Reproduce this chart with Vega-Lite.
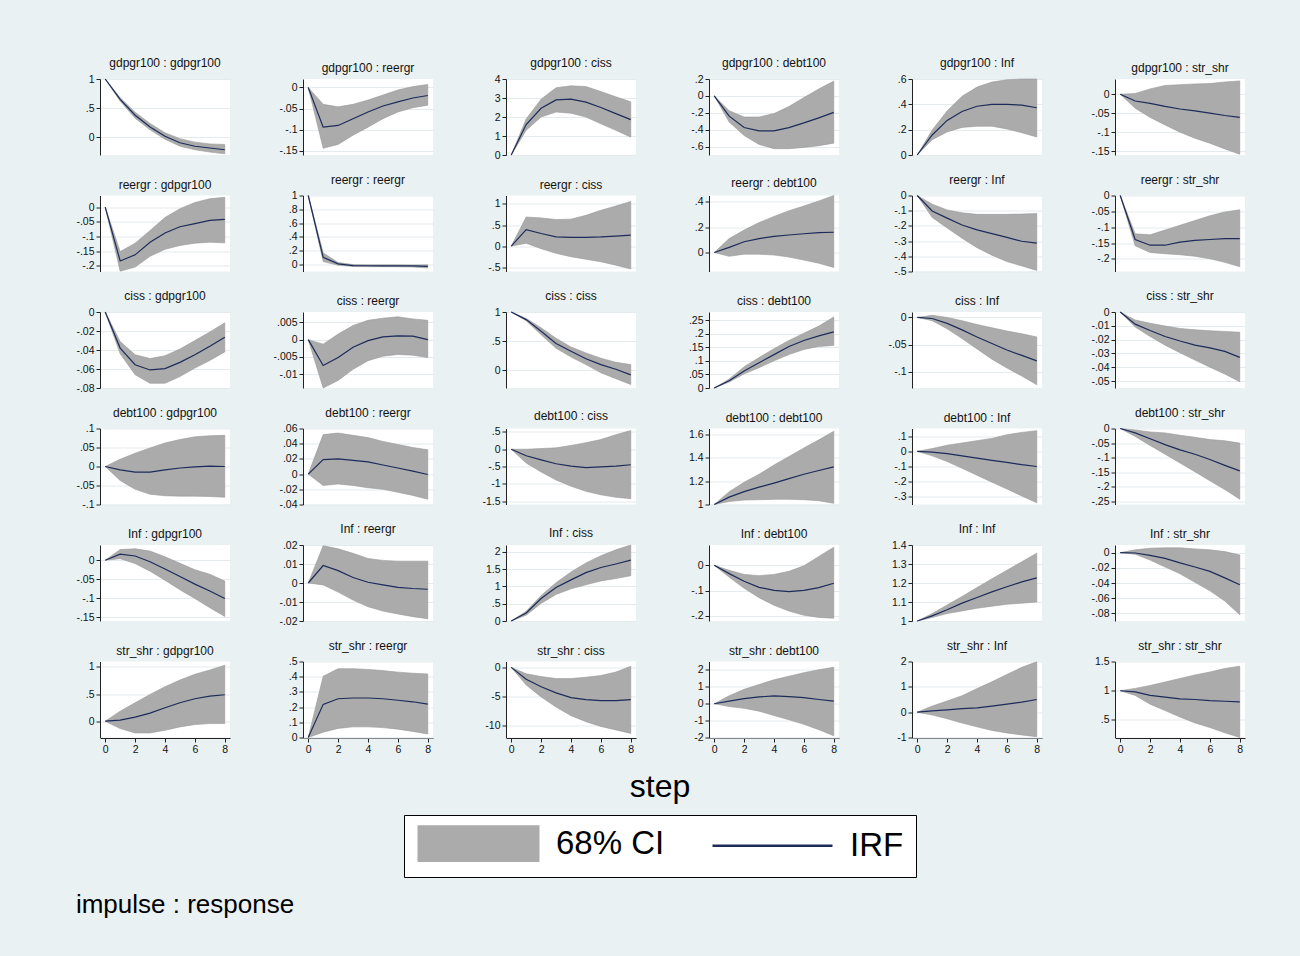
{
 "$schema": "https://vega.github.io/schema/vega-lite/v6.json",
 "background": "#e9f1f3",
 "padding": {"left": 75, "top": 57, "right": 55, "bottom": 50},
 "bounds": "flush",
 "title": {"text": "impulse : response", "orient": "bottom", "anchor": "start", "fontSize": 26, "fontWeight": "normal", "color": "#000", "offset": 14},
 "data": {"values": [
{"panel":"gdpgr100 : gdpgr100","step":0,"irf":1,"lo":1,"hi":1},
{"panel":"gdpgr100 : gdpgr100","step":1,"irf":0.65,"lo":0.62,"hi":0.68},
{"panel":"gdpgr100 : gdpgr100","step":2,"irf":0.38,"lo":0.33,"hi":0.43},
{"panel":"gdpgr100 : gdpgr100","step":3,"irf":0.18,"lo":0.13,"hi":0.24},
{"panel":"gdpgr100 : gdpgr100","step":4,"irf":0.02,"lo":-0.03,"hi":0.08},
{"panel":"gdpgr100 : gdpgr100","step":5,"irf":-0.09,"lo":-0.15,"hi":-0.02},
{"panel":"gdpgr100 : gdpgr100","step":6,"irf":-0.15,"lo":-0.21,"hi":-0.08},
{"panel":"gdpgr100 : gdpgr100","step":7,"irf":-0.18,"lo":-0.25,"hi":-0.11},
{"panel":"gdpgr100 : gdpgr100","step":8,"irf":-0.21,"lo":-0.28,"hi":-0.12},
{"panel":"gdpgr100 : reergr","step":0,"irf":0,"lo":0,"hi":0},
{"panel":"gdpgr100 : reergr","step":1,"irf":-0.094,"lo":-0.144,"hi":-0.04},
{"panel":"gdpgr100 : reergr","step":2,"irf":-0.09,"lo":-0.135,"hi":-0.046},
{"panel":"gdpgr100 : reergr","step":3,"irf":-0.074,"lo":-0.113,"hi":-0.04},
{"panel":"gdpgr100 : reergr","step":4,"irf":-0.058,"lo":-0.094,"hi":-0.03},
{"panel":"gdpgr100 : reergr","step":5,"irf":-0.044,"lo":-0.074,"hi":-0.018},
{"panel":"gdpgr100 : reergr","step":6,"irf":-0.034,"lo":-0.058,"hi":-0.006},
{"panel":"gdpgr100 : reergr","step":7,"irf":-0.025,"lo":-0.048,"hi":0.002},
{"panel":"gdpgr100 : reergr","step":8,"irf":-0.019,"lo":-0.042,"hi":0.007},
{"panel":"gdpgr100 : ciss","step":0,"irf":0,"lo":0,"hi":0},
{"panel":"gdpgr100 : ciss","step":1,"irf":1.6,"lo":1.3,"hi":1.9},
{"panel":"gdpgr100 : ciss","step":2,"irf":2.46,"lo":2.0,"hi":2.94},
{"panel":"gdpgr100 : ciss","step":3,"irf":2.9,"lo":2.26,"hi":3.54},
{"panel":"gdpgr100 : ciss","step":4,"irf":2.94,"lo":2.2,"hi":3.64},
{"panel":"gdpgr100 : ciss","step":5,"irf":2.78,"lo":2.0,"hi":3.6},
{"panel":"gdpgr100 : ciss","step":6,"irf":2.5,"lo":1.64,"hi":3.34},
{"panel":"gdpgr100 : ciss","step":7,"irf":2.18,"lo":1.3,"hi":3.06},
{"panel":"gdpgr100 : ciss","step":8,"irf":1.86,"lo":0.94,"hi":2.8},
{"panel":"gdpgr100 : debt100","step":0,"irf":0,"lo":0,"hi":0},
{"panel":"gdpgr100 : debt100","step":1,"irf":-0.24,"lo":-0.31,"hi":-0.175},
{"panel":"gdpgr100 : debt100","step":2,"irf":-0.375,"lo":-0.47,"hi":-0.25},
{"panel":"gdpgr100 : debt100","step":3,"irf":-0.415,"lo":-0.575,"hi":-0.25},
{"panel":"gdpgr100 : debt100","step":4,"irf":-0.415,"lo":-0.625,"hi":-0.21},
{"panel":"gdpgr100 : debt100","step":5,"irf":-0.375,"lo":-0.625,"hi":-0.125},
{"panel":"gdpgr100 : debt100","step":6,"irf":-0.32,"lo":-0.61,"hi":-0.02},
{"panel":"gdpgr100 : debt100","step":7,"irf":-0.26,"lo":-0.59,"hi":0.083},
{"panel":"gdpgr100 : debt100","step":8,"irf":-0.195,"lo":-0.56,"hi":0.175},
{"panel":"gdpgr100 : Inf","step":0,"irf":0,"lo":0,"hi":0},
{"panel":"gdpgr100 : Inf","step":1,"irf":0.158,"lo":0.121,"hi":0.197},
{"panel":"gdpgr100 : Inf","step":2,"irf":0.273,"lo":0.182,"hi":0.348},
{"panel":"gdpgr100 : Inf","step":3,"irf":0.343,"lo":0.218,"hi":0.464},
{"panel":"gdpgr100 : Inf","step":4,"irf":0.385,"lo":0.227,"hi":0.536},
{"panel":"gdpgr100 : Inf","step":5,"irf":0.4,"lo":0.227,"hi":0.576},
{"panel":"gdpgr100 : Inf","step":6,"irf":0.4,"lo":0.206,"hi":0.594},
{"panel":"gdpgr100 : Inf","step":7,"irf":0.394,"lo":0.176,"hi":0.6},
{"panel":"gdpgr100 : Inf","step":8,"irf":0.373,"lo":0.142,"hi":0.6},
{"panel":"gdpgr100 : str_shr","step":0,"irf":0,"lo":0,"hi":0},
{"panel":"gdpgr100 : str_shr","step":1,"irf":-0.018,"lo":-0.037,"hi":0.002},
{"panel":"gdpgr100 : str_shr","step":2,"irf":-0.024,"lo":-0.061,"hi":0.014},
{"panel":"gdpgr100 : str_shr","step":3,"irf":-0.032,"lo":-0.081,"hi":0.023},
{"panel":"gdpgr100 : str_shr","step":4,"irf":-0.039,"lo":-0.1,"hi":0.025},
{"panel":"gdpgr100 : str_shr","step":5,"irf":-0.044,"lo":-0.116,"hi":0.027},
{"panel":"gdpgr100 : str_shr","step":6,"irf":-0.05,"lo":-0.129,"hi":0.028},
{"panel":"gdpgr100 : str_shr","step":7,"irf":-0.056,"lo":-0.144,"hi":0.032},
{"panel":"gdpgr100 : str_shr","step":8,"irf":-0.061,"lo":-0.158,"hi":0.035},
{"panel":"reergr : gdpgr100","step":0,"irf":0,"lo":0,"hi":0},
{"panel":"reergr : gdpgr100","step":1,"irf":-0.184,"lo":-0.219,"hi":-0.152},
{"panel":"reergr : gdpgr100","step":2,"irf":-0.163,"lo":-0.205,"hi":-0.123},
{"panel":"reergr : gdpgr100","step":3,"irf":-0.12,"lo":-0.168,"hi":-0.08},
{"panel":"reergr : gdpgr100","step":4,"irf":-0.088,"lo":-0.144,"hi":-0.035},
{"panel":"reergr : gdpgr100","step":5,"irf":-0.067,"lo":-0.131,"hi":-0.005},
{"panel":"reergr : gdpgr100","step":6,"irf":-0.056,"lo":-0.123,"hi":0.016},
{"panel":"reergr : gdpgr100","step":7,"irf":-0.045,"lo":-0.12,"hi":0.029},
{"panel":"reergr : gdpgr100","step":8,"irf":-0.042,"lo":-0.122,"hi":0.034},
{"panel":"reergr : reergr","step":0,"irf":1,"lo":1,"hi":1},
{"panel":"reergr : reergr","step":1,"irf":0.106,"lo":0.043,"hi":0.17},
{"panel":"reergr : reergr","step":2,"irf":0.01,"lo":-0.01,"hi":0.03},
{"panel":"reergr : reergr","step":3,"irf":-0.016,"lo":-0.027,"hi":0},
{"panel":"reergr : reergr","step":4,"irf":-0.017,"lo":-0.03,"hi":-0.003},
{"panel":"reergr : reergr","step":5,"irf":-0.018,"lo":-0.03,"hi":-0.003},
{"panel":"reergr : reergr","step":6,"irf":-0.018,"lo":-0.032,"hi":-0.003},
{"panel":"reergr : reergr","step":7,"irf":-0.02,"lo":-0.035,"hi":-0.005},
{"panel":"reergr : reergr","step":8,"irf":-0.025,"lo":-0.05,"hi":-0.003},
{"panel":"reergr : ciss","step":0,"irf":0,"lo":0,"hi":0},
{"panel":"reergr : ciss","step":1,"irf":0.39,"lo":0.07,"hi":0.69},
{"panel":"reergr : ciss","step":2,"irf":0.3,"lo":-0.06,"hi":0.67},
{"panel":"reergr : ciss","step":3,"irf":0.22,"lo":-0.17,"hi":0.63},
{"panel":"reergr : ciss","step":4,"irf":0.21,"lo":-0.25,"hi":0.64},
{"panel":"reergr : ciss","step":5,"irf":0.21,"lo":-0.31,"hi":0.73},
{"panel":"reergr : ciss","step":6,"irf":0.22,"lo":-0.37,"hi":0.85},
{"panel":"reergr : ciss","step":7,"irf":0.24,"lo":-0.45,"hi":0.95},
{"panel":"reergr : ciss","step":8,"irf":0.26,"lo":-0.54,"hi":1.06},
{"panel":"reergr : debt100","step":0,"irf":0,"lo":0,"hi":0},
{"panel":"reergr : debt100","step":1,"irf":0.04,"lo":-0.03,"hi":0.11},
{"panel":"reergr : debt100","step":2,"irf":0.085,"lo":-0.013,"hi":0.177},
{"panel":"reergr : debt100","step":3,"irf":0.11,"lo":-0.013,"hi":0.236},
{"panel":"reergr : debt100","step":4,"irf":0.128,"lo":-0.02,"hi":0.285},
{"panel":"reergr : debt100","step":5,"irf":0.138,"lo":-0.036,"hi":0.33},
{"panel":"reergr : debt100","step":6,"irf":0.148,"lo":-0.06,"hi":0.367},
{"panel":"reergr : debt100","step":7,"irf":0.157,"lo":-0.085,"hi":0.407},
{"panel":"reergr : debt100","step":8,"irf":0.16,"lo":-0.118,"hi":0.45},
{"panel":"reergr : Inf","step":0,"irf":0,"lo":0,"hi":0},
{"panel":"reergr : Inf","step":1,"irf":-0.102,"lo":-0.144,"hi":-0.057},
{"panel":"reergr : Inf","step":2,"irf":-0.149,"lo":-0.214,"hi":-0.095},
{"panel":"reergr : Inf","step":3,"irf":-0.194,"lo":-0.281,"hi":-0.114},
{"panel":"reergr : Inf","step":4,"irf":-0.226,"lo":-0.343,"hi":-0.124},
{"panel":"reergr : Inf","step":5,"irf":-0.251,"lo":-0.393,"hi":-0.124},
{"panel":"reergr : Inf","step":6,"irf":-0.276,"lo":-0.435,"hi":-0.124},
{"panel":"reergr : Inf","step":7,"irf":-0.301,"lo":-0.463,"hi":-0.122},
{"panel":"reergr : Inf","step":8,"irf":-0.313,"lo":-0.493,"hi":-0.119},
{"panel":"reergr : str_shr","step":0,"irf":0,"lo":0,"hi":0},
{"panel":"reergr : str_shr","step":1,"irf":-0.139,"lo":-0.159,"hi":-0.121},
{"panel":"reergr : str_shr","step":2,"irf":-0.157,"lo":-0.18,"hi":-0.124},
{"panel":"reergr : str_shr","step":3,"irf":-0.157,"lo":-0.184,"hi":-0.109},
{"panel":"reergr : str_shr","step":4,"irf":-0.147,"lo":-0.187,"hi":-0.094},
{"panel":"reergr : str_shr","step":5,"irf":-0.142,"lo":-0.192,"hi":-0.079},
{"panel":"reergr : str_shr","step":6,"irf":-0.139,"lo":-0.2,"hi":-0.064},
{"panel":"reergr : str_shr","step":7,"irf":-0.136,"lo":-0.211,"hi":-0.052},
{"panel":"reergr : str_shr","step":8,"irf":-0.136,"lo":-0.225,"hi":-0.045},
{"panel":"ciss : gdpgr100","step":0,"irf":0,"lo":0,"hi":0},
{"panel":"ciss : gdpgr100","step":1,"irf":-0.038,"lo":-0.044,"hi":-0.031},
{"panel":"ciss : gdpgr100","step":2,"irf":-0.0555,"lo":-0.066,"hi":-0.045},
{"panel":"ciss : gdpgr100","step":3,"irf":-0.061,"lo":-0.075,"hi":-0.049},
{"panel":"ciss : gdpgr100","step":4,"irf":-0.0596,"lo":-0.075,"hi":-0.046},
{"panel":"ciss : gdpgr100","step":5,"irf":-0.053,"lo":-0.068,"hi":-0.039},
{"panel":"ciss : gdpgr100","step":6,"irf":-0.045,"lo":-0.059,"hi":-0.03},
{"panel":"ciss : gdpgr100","step":7,"irf":-0.036,"lo":-0.051,"hi":-0.021},
{"panel":"ciss : gdpgr100","step":8,"irf":-0.0265,"lo":-0.042,"hi":-0.0114},
{"panel":"ciss : reergr","step":0,"irf":0,"lo":0,"hi":0},
{"panel":"ciss : reergr","step":1,"irf":-0.0075,"lo":-0.014,"hi":-0.0013},
{"panel":"ciss : reergr","step":2,"irf":-0.0052,"lo":-0.0118,"hi":0.0016},
{"panel":"ciss : reergr","step":3,"irf":-0.0022,"lo":-0.0086,"hi":0.0041},
{"panel":"ciss : reergr","step":4,"irf":-0.0003,"lo":-0.0061,"hi":0.0056},
{"panel":"ciss : reergr","step":5,"irf":0.0008,"lo":-0.0048,"hi":0.0062},
{"panel":"ciss : reergr","step":6,"irf":0.0011,"lo":-0.0043,"hi":0.0066},
{"panel":"ciss : reergr","step":7,"irf":0.001,"lo":-0.0045,"hi":0.006},
{"panel":"ciss : reergr","step":8,"irf":0,"lo":-0.0052,"hi":0.0056},
{"panel":"ciss : ciss","step":0,"irf":1,"lo":1,"hi":1},
{"panel":"ciss : ciss","step":1,"irf":0.87,"lo":0.85,"hi":0.89},
{"panel":"ciss : ciss","step":2,"irf":0.67,"lo":0.61,"hi":0.73},
{"panel":"ciss : ciss","step":3,"irf":0.46,"lo":0.38,"hi":0.55},
{"panel":"ciss : ciss","step":4,"irf":0.33,"lo":0.23,"hi":0.4},
{"panel":"ciss : ciss","step":5,"irf":0.2,"lo":0.1,"hi":0.3},
{"panel":"ciss : ciss","step":6,"irf":0.1,"lo":-0.04,"hi":0.21},
{"panel":"ciss : ciss","step":7,"irf":0.02,"lo":-0.14,"hi":0.14},
{"panel":"ciss : ciss","step":8,"irf":-0.076,"lo":-0.24,"hi":0.1},
{"panel":"ciss : debt100","step":0,"irf":0,"lo":0,"hi":0},
{"panel":"ciss : debt100","step":1,"irf":0.027,"lo":0.022,"hi":0.033},
{"panel":"ciss : debt100","step":2,"irf":0.063,"lo":0.052,"hi":0.078},
{"panel":"ciss : debt100","step":3,"irf":0.093,"lo":0.075,"hi":0.112},
{"panel":"ciss : debt100","step":4,"irf":0.123,"lo":0.1,"hi":0.145},
{"panel":"ciss : debt100","step":5,"irf":0.153,"lo":0.123,"hi":0.175},
{"panel":"ciss : debt100","step":6,"irf":0.175,"lo":0.142,"hi":0.202},
{"panel":"ciss : debt100","step":7,"irf":0.192,"lo":0.153,"hi":0.228},
{"panel":"ciss : debt100","step":8,"irf":0.207,"lo":0.157,"hi":0.262},
{"panel":"ciss : Inf","step":0,"irf":0,"lo":0,"hi":0},
{"panel":"ciss : Inf","step":1,"irf":-0.002,"lo":-0.006,"hi":0.004},
{"panel":"ciss : Inf","step":2,"irf":-0.011,"lo":-0.021,"hi":0},
{"panel":"ciss : Inf","step":3,"irf":-0.023,"lo":-0.039,"hi":-0.006},
{"panel":"ciss : Inf","step":4,"irf":-0.036,"lo":-0.058,"hi":-0.013},
{"panel":"ciss : Inf","step":5,"irf":-0.048,"lo":-0.077,"hi":-0.019},
{"panel":"ciss : Inf","step":6,"irf":-0.06,"lo":-0.093,"hi":-0.025},
{"panel":"ciss : Inf","step":7,"irf":-0.07,"lo":-0.108,"hi":-0.03},
{"panel":"ciss : Inf","step":8,"irf":-0.08,"lo":-0.124,"hi":-0.036},
{"panel":"ciss : str_shr","step":0,"irf":0,"lo":0,"hi":0},
{"panel":"ciss : str_shr","step":1,"irf":-0.0088,"lo":-0.0109,"hi":-0.0058},
{"panel":"ciss : str_shr","step":2,"irf":-0.0134,"lo":-0.0177,"hi":-0.0081},
{"panel":"ciss : str_shr","step":3,"irf":-0.0177,"lo":-0.024,"hi":-0.0101},
{"panel":"ciss : str_shr","step":4,"irf":-0.021,"lo":-0.0295,"hi":-0.0119},
{"panel":"ciss : str_shr","step":5,"irf":-0.024,"lo":-0.0348,"hi":-0.0129},
{"panel":"ciss : str_shr","step":6,"irf":-0.026,"lo":-0.0399,"hi":-0.0136},
{"panel":"ciss : str_shr","step":7,"irf":-0.0285,"lo":-0.0449,"hi":-0.0141},
{"panel":"ciss : str_shr","step":8,"irf":-0.0328,"lo":-0.0505,"hi":-0.0146},
{"panel":"debt100 : gdpgr100","step":0,"irf":0,"lo":0,"hi":0},
{"panel":"debt100 : gdpgr100","step":1,"irf":-0.009,"lo":-0.037,"hi":0.019},
{"panel":"debt100 : gdpgr100","step":2,"irf":-0.015,"lo":-0.06,"hi":0.035},
{"panel":"debt100 : gdpgr100","step":3,"irf":-0.015,"lo":-0.073,"hi":0.049},
{"panel":"debt100 : gdpgr100","step":4,"irf":-0.009,"lo":-0.077,"hi":0.062},
{"panel":"debt100 : gdpgr100","step":5,"irf":-0.004,"lo":-0.078,"hi":0.071},
{"panel":"debt100 : gdpgr100","step":6,"irf":-0.001,"lo":-0.078,"hi":0.078},
{"panel":"debt100 : gdpgr100","step":7,"irf":0.001,"lo":-0.079,"hi":0.081},
{"panel":"debt100 : gdpgr100","step":8,"irf":0,"lo":-0.081,"hi":0.082},
{"panel":"debt100 : reergr","step":0,"irf":0,"lo":0,"hi":0},
{"panel":"debt100 : reergr","step":1,"irf":0.019,"lo":-0.015,"hi":0.052},
{"panel":"debt100 : reergr","step":2,"irf":0.02,"lo":-0.013,"hi":0.054},
{"panel":"debt100 : reergr","step":3,"irf":0.018,"lo":-0.015,"hi":0.051},
{"panel":"debt100 : reergr","step":4,"irf":0.016,"lo":-0.018,"hi":0.048},
{"panel":"debt100 : reergr","step":5,"irf":0.012,"lo":-0.02,"hi":0.043},
{"panel":"debt100 : reergr","step":6,"irf":0.008,"lo":-0.024,"hi":0.039},
{"panel":"debt100 : reergr","step":7,"irf":0.004,"lo":-0.028,"hi":0.035},
{"panel":"debt100 : reergr","step":8,"irf":-0.0005,"lo":-0.033,"hi":0.032},
{"panel":"debt100 : ciss","step":0,"irf":0,"lo":0,"hi":0},
{"panel":"debt100 : ciss","step":1,"irf":-0.19,"lo":-0.4,"hi":0},
{"panel":"debt100 : ciss","step":2,"irf":-0.31,"lo":-0.66,"hi":0.02},
{"panel":"debt100 : ciss","step":3,"irf":-0.42,"lo":-0.89,"hi":0.04},
{"panel":"debt100 : ciss","step":4,"irf":-0.49,"lo":-1.07,"hi":0.11},
{"panel":"debt100 : ciss","step":5,"irf":-0.53,"lo":-1.22,"hi":0.19},
{"panel":"debt100 : ciss","step":6,"irf":-0.51,"lo":-1.32,"hi":0.28},
{"panel":"debt100 : ciss","step":7,"irf":-0.49,"lo":-1.39,"hi":0.42},
{"panel":"debt100 : ciss","step":8,"irf":-0.45,"lo":-1.43,"hi":0.54},
{"panel":"debt100 : debt100","step":0,"irf":1,"lo":1,"hi":1},
{"panel":"debt100 : debt100","step":1,"irf":1.063,"lo":1.025,"hi":1.11},
{"panel":"debt100 : debt100","step":2,"irf":1.11,"lo":1.038,"hi":1.19},
{"panel":"debt100 : debt100","step":3,"irf":1.148,"lo":1.041,"hi":1.259},
{"panel":"debt100 : debt100","step":4,"irf":1.183,"lo":1.044,"hi":1.338},
{"panel":"debt100 : debt100","step":5,"irf":1.221,"lo":1.044,"hi":1.41},
{"panel":"debt100 : debt100","step":6,"irf":1.259,"lo":1.041,"hi":1.483},
{"panel":"debt100 : debt100","step":7,"irf":1.291,"lo":1.032,"hi":1.553},
{"panel":"debt100 : debt100","step":8,"irf":1.322,"lo":1.01,"hi":1.626},
{"panel":"debt100 : Inf","step":0,"irf":0,"lo":0,"hi":0},
{"panel":"debt100 : Inf","step":1,"irf":-0.006,"lo":-0.03,"hi":0.018},
{"panel":"debt100 : Inf","step":2,"irf":-0.015,"lo":-0.067,"hi":0.04},
{"panel":"debt100 : Inf","step":3,"irf":-0.03,"lo":-0.112,"hi":0.055},
{"panel":"debt100 : Inf","step":4,"irf":-0.045,"lo":-0.158,"hi":0.07},
{"panel":"debt100 : Inf","step":5,"irf":-0.06,"lo":-0.203,"hi":0.085},
{"panel":"debt100 : Inf","step":6,"irf":-0.073,"lo":-0.248,"hi":0.109},
{"panel":"debt100 : Inf","step":7,"irf":-0.088,"lo":-0.294,"hi":0.124},
{"panel":"debt100 : Inf","step":8,"irf":-0.1,"lo":-0.339,"hi":0.136},
{"panel":"debt100 : str_shr","step":0,"irf":0,"lo":0,"hi":0},
{"panel":"debt100 : str_shr","step":1,"irf":-0.015,"lo":-0.027,"hi":-0.005},
{"panel":"debt100 : str_shr","step":2,"irf":-0.035,"lo":-0.058,"hi":-0.012},
{"panel":"debt100 : str_shr","step":3,"irf":-0.055,"lo":-0.088,"hi":-0.015},
{"panel":"debt100 : str_shr","step":4,"irf":-0.073,"lo":-0.118,"hi":-0.023},
{"panel":"debt100 : str_shr","step":5,"irf":-0.088,"lo":-0.148,"hi":-0.03},
{"panel":"debt100 : str_shr","step":6,"irf":-0.106,"lo":-0.179,"hi":-0.038},
{"panel":"debt100 : str_shr","step":7,"irf":-0.126,"lo":-0.209,"hi":-0.042},
{"panel":"debt100 : str_shr","step":8,"irf":-0.145,"lo":-0.242,"hi":-0.05},
{"panel":"Inf : gdpgr100","step":0,"irf":0,"lo":0,"hi":0},
{"panel":"Inf : gdpgr100","step":1,"irf":0.016,"lo":0.004,"hi":0.028},
{"panel":"Inf : gdpgr100","step":2,"irf":0.011,"lo":-0.009,"hi":0.03},
{"panel":"Inf : gdpgr100","step":3,"irf":-0.004,"lo":-0.029,"hi":0.024},
{"panel":"Inf : gdpgr100","step":4,"irf":-0.023,"lo":-0.053,"hi":0.009},
{"panel":"Inf : gdpgr100","step":5,"irf":-0.043,"lo":-0.078,"hi":-0.008},
{"panel":"Inf : gdpgr100","step":6,"irf":-0.063,"lo":-0.101,"hi":-0.025},
{"panel":"Inf : gdpgr100","step":7,"irf":-0.081,"lo":-0.125,"hi":-0.037},
{"panel":"Inf : gdpgr100","step":8,"irf":-0.101,"lo":-0.148,"hi":-0.055},
{"panel":"Inf : reergr","step":0,"irf":0,"lo":0,"hi":0},
{"panel":"Inf : reergr","step":1,"irf":0.0092,"lo":-0.001,"hi":0.0196},
{"panel":"Inf : reergr","step":2,"irf":0.0065,"lo":-0.0048,"hi":0.018},
{"panel":"Inf : reergr","step":3,"irf":0.0029,"lo":-0.009,"hi":0.0156},
{"panel":"Inf : reergr","step":4,"irf":0.0004,"lo":-0.0125,"hi":0.0129},
{"panel":"Inf : reergr","step":5,"irf":-0.001,"lo":-0.0148,"hi":0.0119},
{"panel":"Inf : reergr","step":6,"irf":-0.0023,"lo":-0.0163,"hi":0.0115},
{"panel":"Inf : reergr","step":7,"irf":-0.0029,"lo":-0.0177,"hi":0.0115},
{"panel":"Inf : reergr","step":8,"irf":-0.0033,"lo":-0.0188,"hi":0.0115},
{"panel":"Inf : ciss","step":0,"irf":0,"lo":0,"hi":0},
{"panel":"Inf : ciss","step":1,"irf":0.23,"lo":0.17,"hi":0.28},
{"panel":"Inf : ciss","step":2,"irf":0.65,"lo":0.51,"hi":0.74},
{"panel":"Inf : ciss","step":3,"irf":0.97,"lo":0.77,"hi":1.11},
{"panel":"Inf : ciss","step":4,"irf":1.19,"lo":0.93,"hi":1.42},
{"panel":"Inf : ciss","step":5,"irf":1.4,"lo":1.05,"hi":1.68},
{"panel":"Inf : ciss","step":6,"irf":1.55,"lo":1.16,"hi":1.89},
{"panel":"Inf : ciss","step":7,"irf":1.65,"lo":1.23,"hi":2.06},
{"panel":"Inf : ciss","step":8,"irf":1.76,"lo":1.31,"hi":2.2},
{"panel":"Inf : debt100","step":0,"irf":0,"lo":0,"hi":0},
{"panel":"Inf : debt100","step":1,"irf":-0.033,"lo":-0.047,"hi":-0.02},
{"panel":"Inf : debt100","step":2,"irf":-0.063,"lo":-0.091,"hi":-0.036},
{"panel":"Inf : debt100","step":3,"irf":-0.087,"lo":-0.128,"hi":-0.041},
{"panel":"Inf : debt100","step":4,"irf":-0.099,"lo":-0.158,"hi":-0.036},
{"panel":"Inf : debt100","step":5,"irf":-0.104,"lo":-0.181,"hi":-0.024},
{"panel":"Inf : debt100","step":6,"irf":-0.099,"lo":-0.197,"hi":-0.002},
{"panel":"Inf : debt100","step":7,"irf":-0.088,"lo":-0.206,"hi":0.035},
{"panel":"Inf : debt100","step":8,"irf":-0.071,"lo":-0.209,"hi":0.071},
{"panel":"Inf : Inf","step":0,"irf":1,"lo":1,"hi":1},
{"panel":"Inf : Inf","step":1,"irf":1.027,"lo":1.018,"hi":1.039},
{"panel":"Inf : Inf","step":2,"irf":1.059,"lo":1.039,"hi":1.084},
{"panel":"Inf : Inf","step":3,"irf":1.094,"lo":1.053,"hi":1.129},
{"panel":"Inf : Inf","step":4,"irf":1.124,"lo":1.067,"hi":1.176},
{"panel":"Inf : Inf","step":5,"irf":1.153,"lo":1.078,"hi":1.222},
{"panel":"Inf : Inf","step":6,"irf":1.18,"lo":1.088,"hi":1.267},
{"panel":"Inf : Inf","step":7,"irf":1.206,"lo":1.094,"hi":1.312},
{"panel":"Inf : Inf","step":8,"irf":1.227,"lo":1.1,"hi":1.357},
{"panel":"Inf : str_shr","step":0,"irf":0,"lo":0,"hi":0},
{"panel":"Inf : str_shr","step":1,"irf":-0.0005,"lo":-0.0022,"hi":0.0036},
{"panel":"Inf : str_shr","step":2,"irf":-0.0036,"lo":-0.0099,"hi":0.0058},
{"panel":"Inf : str_shr","step":3,"irf":-0.0076,"lo":-0.0189,"hi":0.0063},
{"panel":"Inf : str_shr","step":4,"irf":-0.0135,"lo":-0.0279,"hi":0.0063},
{"panel":"Inf : str_shr","step":5,"irf":-0.0189,"lo":-0.0391,"hi":0.0049},
{"panel":"Inf : str_shr","step":6,"irf":-0.0247,"lo":-0.0503,"hi":0.0036},
{"panel":"Inf : str_shr","step":7,"irf":-0.0333,"lo":-0.0638,"hi":0.0013},
{"panel":"Inf : str_shr","step":8,"irf":-0.0422,"lo":-0.0818,"hi":-0.0031},
{"panel":"str_shr : gdpgr100","step":0,"irf":0,"lo":0,"hi":0},
{"panel":"str_shr : gdpgr100","step":1,"irf":0.02,"lo":-0.136,"hi":0.185},
{"panel":"str_shr : gdpgr100","step":2,"irf":0.074,"lo":-0.216,"hi":0.34},
{"panel":"str_shr : gdpgr100","step":3,"irf":0.148,"lo":-0.216,"hi":0.494},
{"panel":"str_shr : gdpgr100","step":4,"irf":0.247,"lo":-0.167,"hi":0.636},
{"panel":"str_shr : gdpgr100","step":5,"irf":0.34,"lo":-0.105,"hi":0.759},
{"panel":"str_shr : gdpgr100","step":6,"irf":0.414,"lo":-0.062,"hi":0.864},
{"panel":"str_shr : gdpgr100","step":7,"irf":0.463,"lo":-0.043,"hi":0.944},
{"panel":"str_shr : gdpgr100","step":8,"irf":0.488,"lo":-0.043,"hi":1.03},
{"panel":"str_shr : reergr","step":0,"irf":0,"lo":0,"hi":0},
{"panel":"str_shr : reergr","step":1,"irf":0.218,"lo":0.035,"hi":0.403},
{"panel":"str_shr : reergr","step":2,"irf":0.255,"lo":0.06,"hi":0.453},
{"panel":"str_shr : reergr","step":3,"irf":0.26,"lo":0.07,"hi":0.453},
{"panel":"str_shr : reergr","step":4,"irf":0.26,"lo":0.07,"hi":0.448},
{"panel":"str_shr : reergr","step":5,"irf":0.255,"lo":0.065,"hi":0.44},
{"panel":"str_shr : reergr","step":6,"irf":0.245,"lo":0.055,"hi":0.43},
{"panel":"str_shr : reergr","step":7,"irf":0.235,"lo":0.04,"hi":0.423},
{"panel":"str_shr : reergr","step":8,"irf":0.22,"lo":0.023,"hi":0.418},
{"panel":"str_shr : ciss","step":0,"irf":0,"lo":0,"hi":0},
{"panel":"str_shr : ciss","step":1,"irf":-2.03,"lo":-3.02,"hi":-1.1},
{"panel":"str_shr : ciss","step":2,"irf":-3.31,"lo":-5.06,"hi":-1.57},
{"panel":"str_shr : ciss","step":3,"irf":-4.36,"lo":-6.8,"hi":-1.92},
{"panel":"str_shr : ciss","step":4,"irf":-5.17,"lo":-8.26,"hi":-1.92},
{"panel":"str_shr : ciss","step":5,"irf":-5.52,"lo":-9.3,"hi":-1.69},
{"panel":"str_shr : ciss","step":6,"irf":-5.7,"lo":-10.1,"hi":-1.4},
{"panel":"str_shr : ciss","step":7,"irf":-5.7,"lo":-10.7,"hi":-0.81},
{"panel":"str_shr : ciss","step":8,"irf":-5.52,"lo":-11.3,"hi":0.17},
{"panel":"str_shr : debt100","step":0,"irf":0,"lo":0,"hi":0},
{"panel":"str_shr : debt100","step":1,"irf":0.15,"lo":-0.17,"hi":0.47},
{"panel":"str_shr : debt100","step":2,"irf":0.3,"lo":-0.27,"hi":0.85},
{"panel":"str_shr : debt100","step":3,"irf":0.4,"lo":-0.44,"hi":1.14},
{"panel":"str_shr : debt100","step":4,"irf":0.47,"lo":-0.7,"hi":1.42},
{"panel":"str_shr : debt100","step":5,"irf":0.42,"lo":-0.95,"hi":1.63},
{"panel":"str_shr : debt100","step":6,"irf":0.36,"lo":-1.22,"hi":1.84},
{"panel":"str_shr : debt100","step":7,"irf":0.25,"lo":-1.54,"hi":2.01},
{"panel":"str_shr : debt100","step":8,"irf":0.15,"lo":-1.9,"hi":2.16},
{"panel":"str_shr : Inf","step":0,"irf":0,"lo":0,"hi":0},
{"panel":"str_shr : Inf","step":1,"irf":0.05,"lo":-0.11,"hi":0.24},
{"panel":"str_shr : Inf","step":2,"irf":0.09,"lo":-0.26,"hi":0.44},
{"panel":"str_shr : Inf","step":3,"irf":0.14,"lo":-0.43,"hi":0.65},
{"panel":"str_shr : Inf","step":4,"irf":0.17,"lo":-0.58,"hi":0.93},
{"panel":"str_shr : Inf","step":5,"irf":0.24,"lo":-0.72,"hi":1.2},
{"panel":"str_shr : Inf","step":6,"irf":0.32,"lo":-0.82,"hi":1.49},
{"panel":"str_shr : Inf","step":7,"irf":0.4,"lo":-0.9,"hi":1.77},
{"panel":"str_shr : Inf","step":8,"irf":0.5,"lo":-0.97,"hi":1.99},
{"panel":"str_shr : str_shr","step":0,"irf":1,"lo":1,"hi":1},
{"panel":"str_shr : str_shr","step":1,"irf":0.98,"lo":0.92,"hi":1.04},
{"panel":"str_shr : str_shr","step":2,"irf":0.92,"lo":0.77,"hi":1.09},
{"panel":"str_shr : str_shr","step":3,"irf":0.89,"lo":0.66,"hi":1.15},
{"panel":"str_shr : str_shr","step":4,"irf":0.86,"lo":0.55,"hi":1.21},
{"panel":"str_shr : str_shr","step":5,"irf":0.85,"lo":0.45,"hi":1.27},
{"panel":"str_shr : str_shr","step":6,"irf":0.83,"lo":0.37,"hi":1.32},
{"panel":"str_shr : str_shr","step":7,"irf":0.82,"lo":0.28,"hi":1.38},
{"panel":"str_shr : str_shr","step":8,"irf":0.81,"lo":0.2,"hi":1.42}
 ]},
 "facet": {
  "field": "panel", "type": "nominal", "title": "step",
  "sort": ["gdpgr100 : gdpgr100","gdpgr100 : reergr","gdpgr100 : ciss","gdpgr100 : debt100","gdpgr100 : Inf","gdpgr100 : str_shr",
           "reergr : gdpgr100","reergr : reergr","reergr : ciss","reergr : debt100","reergr : Inf","reergr : str_shr",
           "ciss : gdpgr100","ciss : reergr","ciss : ciss","ciss : debt100","ciss : Inf","ciss : str_shr",
           "debt100 : gdpgr100","debt100 : reergr","debt100 : ciss","debt100 : debt100","debt100 : Inf","debt100 : str_shr",
           "Inf : gdpgr100","Inf : reergr","Inf : ciss","Inf : debt100","Inf : Inf","Inf : str_shr",
           "str_shr : gdpgr100","str_shr : reergr","str_shr : ciss","str_shr : debt100","str_shr : Inf","str_shr : str_shr"],
  "header": {"titleOrient": "bottom", "titleFontSize": 32, "titleFontWeight": "normal", "titleColor": "#000", "titlePadding": 17,
             "labelFontSize": 12, "labelColor": "#111", "labelPadding": 4, "labelOrient": "top"}
 },
 "columns": 6,
 "spacing": {"row": 40.5, "column": 73},
 "spec": {
  "width": 130,
  "height": 76,
  "layer": [
   {"mark": {"type": "area", "stroke": "#999999", "strokeWidth": 0.6, "opacity": 1},
    "encoding": {
     "x": {"field": "step", "type": "quantitative", "scale": {"domain": [-0.35, 8.35], "nice": false}, "axis": {"values": [0, 2, 4, 6, 8], "title": null}},
     "y": {"field": "lo", "type": "quantitative", "scale": {"zero": false, "nice": true},
           "axis": {"title": null, "tickCount": 4, "format": "~f", "labelExpr": "replace(replace(datum.label, '\u2212', '-'), '0.', '.')"}},
     "y2": {"field": "hi"},
     "color": {"datum": "68% CI", "type": "nominal",
               "scale": {"domain": ["68% CI", "IRF"], "range": ["#ababab", "#1c2b5a"]},
               "legend": {"title": null, "symbolOffset": 46, "labelOffset": 61,
                          "encode": {"symbols": {"update": {
                            "shape": {"signal": "datum.value === 'IRF' ? 'stroke' : 'M-1,-0.29H1V0.29H-1Z'"},
                            "size": {"value": 14400},
                            "fill": {"signal": "datum.value === 'IRF' ? 'transparent' : '#b3b3b3'"},
                            "stroke": {"signal": "datum.value === 'IRF' ? '#1c2b5a' : '#9a9a9a'"},
                            "strokeWidth": {"signal": "datum.value === 'IRF' ? 2.5 : 2"},
                            "opacity": {"value": 1}}}}}}
    }},
   {"mark": {"type": "line", "strokeWidth": 1.2},
    "encoding": {
     "x": {"field": "step", "type": "quantitative", "axis": {"values": [0, 2, 4, 6, 8], "title": null}},
     "y": {"field": "irf", "type": "quantitative",
           "axis": {"title": null, "tickCount": 4, "format": "~f", "labelExpr": "replace(replace(datum.label, '\u2212', '-'), '0.', '.')"}},
     "color": {"datum": "IRF", "type": "nominal",
               "legend": {"title": null, "symbolOffset": 46, "labelOffset": 61,
                          "encode": {"symbols": {"update": {
                            "shape": {"signal": "datum.value === 'IRF' ? 'stroke' : 'M-1,-0.29H1V0.29H-1Z'"},
                            "size": {"value": 14400},
                            "fill": {"signal": "datum.value === 'IRF' ? 'transparent' : '#b3b3b3'"},
                            "stroke": {"signal": "datum.value === 'IRF' ? '#1c2b5a' : '#9a9a9a'"},
                            "strokeWidth": {"signal": "datum.value === 'IRF' ? 2.5 : 2"},
                            "opacity": {"value": 1}}}}}}
    }}
  ]
 },
 "resolve": {"scale": {"y": "independent"}},
 "config": {
  "font": "Liberation Sans",
  "view": {"stroke": null, "fill": "white"},
  "axisY": {"grid": true, "gridColor": "#e3ebee", "domainColor": "#222", "tickColor": "#222", "tickSize": 4, "labelFontSize": 10.5, "labelColor": "#111", "labelPadding": 2},
  "axisX": {"grid": false, "domainColor": "#222", "tickColor": "#222", "tickSize": 4, "labelFontSize": 10.5, "labelColor": "#111"},
  "legend": {"orient": "bottom", "direction": "horizontal", "strokeColor": "#000", "fillColor": "#fff", "padding": 12,
             "labelFontSize": 33, "labelColor": "#000", "columnPadding": 42, "labelLimit": 300, "offset": 12,
             "layout": {"bottom": {"anchor": "middle"}}}
 }
}
